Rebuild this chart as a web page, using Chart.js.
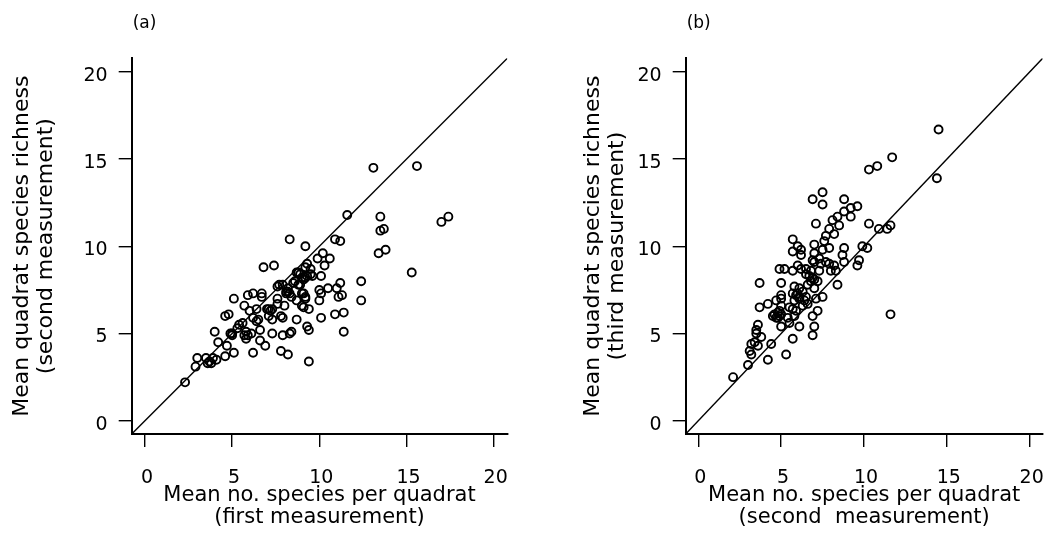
<!DOCTYPE html>
<html>
<head>
<meta charset="utf-8">
<script src="https://cdn.jsdelivr.net/npm/chart.js@4/dist/chart.umd.min.js"></script>
<style>
body { margin: 0; background: #fff; }
#wrap { position: relative; width: 1062px; height: 539px; }
canvas { position: absolute; top: 0; }
</style>
</head>
<body>
<div id="wrap">
	<canvas id="chartA" width="531" height="539" style="left:0px"></canvas>
	<canvas id="chartB" width="511" height="539" style="left:551px"></canvas>
</div>
<script>
// axis range and ticks (same for both panels)
var axisLimits = [-0.76, 20.78];
var tickValues = [0, 5, 10, 15, 20];

// (a) first vs second measurement
var firstA = [2.3,2.9,3.0,3.5,3.6,3.7,3.9,3.8,4.0,4.2, 4.6,4.7,4.6,4.8,4.9,5.0,5.1,5.1,5.3,5.4,
	5.6,5.7,5.8,5.9,5.8,6.1,5.7,5.9,6.2,6.0, 6.2,6.2,6.4,6.4,6.5,6.7,6.7,6.8,7.4,6.6,
	6.9,6.6,7.1,7.0,7.2,7.3,7.1,7.3,7.3,7.6, 7.7,7.9,7.6,7.6,7.8,7.8,7.9,7.9,8.0,8.1,
	8.2,8.2,8.3,8.2,8.3,8.3,8.4,8.5,8.4,8.7, 8.6,8.7,8.7,8.8,8.9,8.9,8.8,9.0,9.0,9.1,
	9.2,9.1,9.2,9.0,9.1,9.2,9.3,9.4,9.4,9.4, 9.2,9.3,9.5,9.5,9.3,9.2,9.6,9.9,10.0,10.1,
	10.2,10.3,10.1,10.0,10.1,10.6,10.5,10.9,10.9,11.2, 11.0,11.2,11.1,11.3,11.4,11.4,11.6,12.4,12.4,13.1,
	15.6,13.5,13.5,13.7,13.4,13.8,17.0,17.4,15.3,8.1, 5.0,4.1];
var secondA = [2.2,3.1,3.6,3.6,3.3,3.4,3.6,3.3,5.1,4.5, 3.7,4.3,6.0,6.1,5.0,4.9,3.9,7.0,5.3,5.5,
	5.6,4.9,4.7,4.9,5.1,5.0,6.6,7.2,7.3,6.3, 5.9,3.9,6.4,5.7,5.8,7.3,7.1,8.8,8.9,4.6,
	4.3,5.2,6.4,6.4,6.3,6.4,6.0,5.0,5.8,7.7, 7.8,7.8,7.0,6.7,4.0,6.0,5.9,4.9,6.6,7.3,
	3.8,7.4,7.3,7.6,10.4,5.0,5.1,7.9,7.1,5.8, 8.0,6.9,8.5,8.5,8.4,7.8,7.8,7.3,8.2,8.1,
	10.0,6.5,7.0,6.6,7.3,7.1,5.4,5.2,3.4,6.4, 8.8,9.0,8.7,8.4,8.3,8.2,8.3,9.3,6.9,5.9,
	9.6,8.9,7.3,7.5,8.3,9.3,7.6,6.1,10.4,10.3, 7.6,7.9,7.1,7.2,6.2,5.1,11.8,8.0,6.9,14.5,
	14.6,11.7,10.9,11.0,9.6,9.8,11.4,11.7,8.5,7.4, 5.0,3.5];

// (b) second vs third measurement
var secondB = [2.1,3.0,3.2,3.1,3.2,3.4,3.6,3.8,3.5,3.5, 3.6,4.2,4.4,3.7,3.7,4.2,4.7,5.0,4.9,5.2,
	5.0,5.0,4.5,4.6,4.7,4.8,4.9,4.9,5.0,4.8, 5.0,5.0,5.3,5.4,5.5,5.7,5.7,5.8,5.8,5.7,
	5.9,6.0,6.1,5.8,6.1,6.1,5.7,5.7,5.7,6.0, 6.2,6.2,6.2,6.5,6.3,6.5,6.6,6.6,6.8,6.9,
	7.0,7.2,7.0,6.8,6.9,7.0,7.3,7.3,7.0,6.9, 7.0,6.9,7.2,7.1,7.5,7.1,6.9,7.5,7.5,7.5,
	7.6,7.7,7.9,7.7,7.9,7.9,8.1,8.2,8.4,8.5, 8.8,8.8,9.2,9.6,9.2,8.2,8.3,8.4,8.7,8.8,
	8.8,9.6,9.7,9.9,10.2,10.3,10.9,11.4,11.6,11.6, 10.3,10.8,11.7,14.4,14.5,6.4,6.3,6.1,5.9,5.5,
	6.5,6.7,7.0,7.4,6.0,8.0];
var thirdB = [2.5,3.2,3.8,4.0,4.4,4.5,4.3,4.8,5.0,5.2, 5.5,3.5,4.4,6.5,7.9,6.7,6.9,7.0,8.7,8.7,
	7.9,7.2,6.0,6.1,5.9,6.2,6.0,6.3,6.1,5.9, 6.6,5.4,3.8,5.9,5.6,4.7,6.4,6.0,6.9,7.3,
	7.2,7.3,7.1,7.7,7.6,5.4,8.6,10.4,9.7,10.0, 9.8,9.5,8.7,8.7,6.6,7.1,6.7,7.8,8.0,8.2,
	8.1,8.0,7.6,8.6,9.2,9.1,9.3,8.6,10.1,6.0, 5.4,4.9,6.3,7.0,7.1,11.3,12.7,13.1,12.4,9.8,
	10.3,10.6,9.9,9.1,9.0,11.0,11.5,10.7,11.7,11.2, 12.0,12.7,12.2,12.3,11.7,8.9,8.6,7.8,9.5,9.9,
	9.1,8.9,9.2,10.0,9.9,11.3,11.0,11.0,11.2,6.1, 14.4,14.6,15.1,13.9,16.7,6.9,7.4,7.0,6.3,6.5,
	8.4,8.3,9.6,9.0,8.9,8.6];

var fontFamily = '"DejaVu Sans", "Liberation Sans", sans-serif';

//panel letter above the plot
var panelLabel = {
	id: 'panelLabel',
	afterDraw: function(chart, args, opts) {
		var ctx = chart.ctx;
		ctx.save();
		ctx.font = '17px ' + fontFamily;
		ctx.fillStyle = '#000';
		ctx.textBaseline = 'middle';
		ctx.textAlign = 'left';
		ctx.fillText(opts.text, chart.chartArea.left + 1, 23.5);
		ctx.restore();
	}
};

function toPoints(xs, ys) {
	var pts = [];
	for (var i = 0; i < Math.min(xs.length, ys.length); i++) {
		pts.push({x: xs[i], y: ys[i]});
	}
	return pts;
}

function fixTicks(scale) {
	scale.ticks = tickValues.map(function(v) { return {value: v}; });
}

function makePanel(id, xs, ys, letter, xTitle, yTitle, padLeft, yWidth, padRight) {
	var ctx = document.getElementById(id);
	return new Chart(ctx, {
		type: 'scatter',
		data: {
			datasets: [
				{
					// 1:1 line
					data: [{x: axisLimits[0], y: axisLimits[0]}, {x: axisLimits[1], y: axisLimits[1]}],
					showLine: true,
					pointRadius: 0,
					borderColor: '#000',
					borderWidth: 1.4
				},
				{
					data: toPoints(xs, ys),
					pointStyle: 'circle',
					pointRadius: 4,
					borderWidth: 1.9,
					borderColor: '#000',
					backgroundColor: 'rgba(0,0,0,0)'
				}
			]
		},
		options: {
			responsive: false,
			animation: false,
			devicePixelRatio: 1,
			layout: { padding: { left: padLeft, top: 58.3, right: padRight, bottom: 0 } },
			plugins: {
				legend: { display: false },
				tooltip: { enabled: false },
				panelLabel: { text: letter }
			},
			scales: {
				x: {
					type: 'linear',
					min: axisLimits[0],
					max: axisLimits[1],
					afterBuildTicks: fixTicks,
					afterFit: function(s) { s.height = 105; },
					grid: { drawOnChartArea: false, color: '#000', lineWidth: 1.4, tickLength: 13 },
					border: { color: '#000', width: 2 },
					ticks: { color: '#000', font: { family: fontFamily, size: 19 }, padding: 20, labelOffset: 2, maxRotation: 0, autoSkip: false },
					title: { display: true, text: xTitle, color: '#000', font: { family: fontFamily, size: 21, lineHeight: 1.07 }, padding: { top: 0, bottom: 10 } }
				},
				y: {
					type: 'linear',
					min: axisLimits[0],
					max: axisLimits[1],
					afterBuildTicks: fixTicks,
					afterFit: function(s) { s.width = yWidth; },
					grid: { drawOnChartArea: false, color: '#000', lineWidth: 1.4, tickLength: 13 },
					border: { color: '#000', width: 2 },
					ticks: { color: '#000', font: { family: fontFamily, size: 19 }, padding: 11, labelOffset: 4, autoSkip: false },
					title: { display: true, text: yTitle, color: '#000', font: { family: fontFamily, size: 22, lineHeight: 1.1 }, padding: { top: 10, bottom: 0 } }
				}
			}
		},
		plugins: [panelLabel]
	});
}

var chartA = makePanel('chartA', firstA, secondA, '(a)',
	['Mean no. species per quadrat', '(first measurement)'],
	['Mean quadrat species richness', '(second measurement)'],
	0, 131.7, 23.7);

var chartB = makePanel('chartB', secondB, thirdB, '(b)',
	['Mean no. species per quadrat', '(second  measurement)'],
	['Mean quadrat species richness', '(third measurement)'],
	20, 114.7, 1);
</script>
</body>
</html>
